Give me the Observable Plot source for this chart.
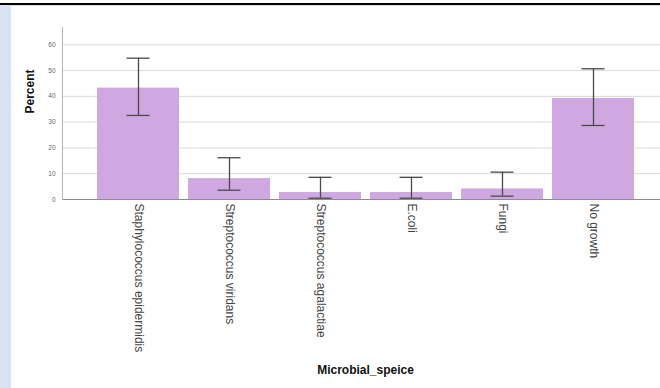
<!DOCTYPE html>
<html>
<head>
<meta charset="utf-8">
<script src="https://cdn.jsdelivr.net/npm/d3@7"></script>
<script src="https://cdn.jsdelivr.net/npm/@observablehq/plot@0.6"></script>
<style>
  html, body { margin: 0; padding: 0; background: #ffffff; }
  #wrap { position: relative; width: 660px; height: 388px; overflow: hidden; background: #ffffff; }
  #topline { position: absolute; left: 0; top: 3px; width: 660px; height: 2px; background: #000000; }
  #topblue { position: absolute; left: 0; top: 5px; width: 660px; height: 1px; background: #dae3f3; }
  #leftblue { position: absolute; left: 0; top: 5px; width: 11px; height: 383px; background: #dae3f3; }
  #chart { position: absolute; left: 0; top: 0; }
</style>
</head>
<body>
<div id="wrap">
  <div id="topline"></div>
  <div id="topblue"></div>
  <div id="leftblue"></div>
  <div id="chart"></div>
</div>
<script>
const categories = ["Staphylococcus epidermidis", "Streptococcus viridans", "Streptococcus agalactiae", "E.coli", "Fungi", "No growth"];
const percent = [43.2, 8.1, 2.7, 2.7, 4.1, 39.2];
const ciLow = [32.6, 3.6, 0.5, 0.5, 1.3, 28.7];
const ciHigh = [54.8, 16.2, 8.6, 8.6, 10.6, 50.7];
const yTicks = [0, 10, 20, 30, 40, 50, 60];
const xTitle = "Microbial_speice";
const yTitle = "Percent";

const data = categories.map((c, i) => ({cat: c, pct: percent[i], lo: ciLow[i], hi: ciHigh[i]}));

const font = "'Liberation Sans', Arial, sans-serif";
const plot = Plot.plot({
  width: 660,
  height: 388,
  marginLeft: 62,
  marginRight: 0,
  marginTop: 27,
  marginBottom: 189,
  style: {background: "transparent", fontFamily: font},
  x: {domain: categories, range: [62, 669], paddingInner: 0.1, paddingOuter: 0.38},
  y: {domain: [0, 66.7]},
  marks: [
    Plot.ruleY(yTicks.filter(t => t > 0), {stroke: "#dadada", strokeWidth: 1}),
    Plot.barY(data, {x: "cat", y: "pct", fill: "#cfa8e2"}),
    Plot.ruleY([0], {stroke: "#8c8c8c"}),
    Plot.frame({anchor: "left", stroke: "#b4b4b4"}),
    Plot.ruleX(data, {x: "cat", y1: "lo", y2: "hi", stroke: "#4a4a4a", strokeWidth: 1.3}),
    Plot.tickY(data, {x: "cat", y: "lo", insetLeft: 29.5, insetRight: 29.5, stroke: "#4a4a4a", strokeWidth: 1.3}),
    Plot.tickY(data, {x: "cat", y: "hi", insetLeft: 29.5, insetRight: 29.5, stroke: "#4a4a4a", strokeWidth: 1.3}),
    Plot.axisY({ticks: yTicks, tickSize: 0, tickPadding: 7, fontSize: 6.5, color: "#666", label: null}),
    Plot.axisX({tickSize: 0, tickPadding: 4, tickRotate: 90, fontSize: 12, color: "#444", label: null}),
    Plot.text([yTitle], {frameAnchor: "left", dx: -32, rotate: -90, fontWeight: "bold", fontSize: 12, fill: "#111"}),
    Plot.text([xTitle], {frameAnchor: "bottom", dx: 4, dy: 174, fontWeight: "bold", fontSize: 12, fill: "#111"})
  ]
});
document.getElementById("chart").appendChild(plot);
</script>
</body>
</html>
